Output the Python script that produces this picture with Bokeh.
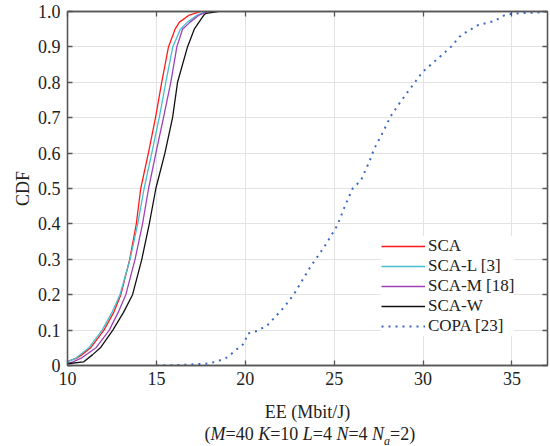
from bokeh.plotting import figure
from bokeh.layouts import column
from bokeh.models import (ColumnDataSource, Legend, LegendItem, LinearAxis, FixedTicker, Range1d)
from bokeh.core.properties import value
from bokeh.embed import file_html
from bokeh.resources import INLINE

# ---------------- data ----------------
sca_x = [10.0, 10.5, 10.8, 11.3, 12.05, 12.6, 13.0, 13.25, 13.5, 13.87, 14.12, 14.55, 14.95, 15.3, 15.68, 16.05, 16.3, 16.85, 17.5]
sca_y = [0.012, 0.02, 0.03, 0.05, 0.10, 0.15, 0.20, 0.25, 0.30, 0.40, 0.50, 0.60, 0.70, 0.80, 0.90, 0.95, 0.97, 0.99, 1.0]

scal_x = [10.0, 10.45, 11.2, 11.95, 12.5, 12.95, 13.52, 13.95, 14.31, 14.74, 15.16, 15.53, 15.92, 16.35, 16.75, 17.3, 17.8]
scal_y = [0.01, 0.02, 0.05, 0.10, 0.15, 0.20, 0.30, 0.40, 0.50, 0.60, 0.70, 0.80, 0.90, 0.95, 0.97, 0.99, 1.0]

scam_x = [10.0, 10.3, 10.75, 11.6, 12.35, 12.85, 13.28, 13.8, 14.22, 14.56, 14.97, 15.4, 15.81, 16.15, 16.47, 16.9, 17.4, 17.9]
scam_y = [0.005, 0.01, 0.02, 0.05, 0.10, 0.15, 0.20, 0.30, 0.40, 0.50, 0.60, 0.70, 0.80, 0.90, 0.95, 0.97, 0.99, 1.0]

scaw_x = [10.0, 10.9, 11.4, 11.85, 12.55, 13.15, 13.66, 14.18, 14.6, 14.97, 15.48, 15.91, 16.19, 16.75, 17.13, 17.67, 17.8, 18.44]
scaw_y = [0.005, 0.01, 0.03, 0.05, 0.10, 0.15, 0.20, 0.30, 0.40, 0.50, 0.60, 0.70, 0.80, 0.90, 0.95, 0.99, 0.995, 1.0]

copa_x = [15.0, 16.0, 17.0, 17.8, 18.4, 19.0, 19.5, 19.94, 20.13, 20.68, 21.25, 22.19, 22.75, 23.2, 23.69, 24.1, 24.53,
          25.19, 25.6, 26.04, 26.51, 26.97, 27.25, 27.73, 28.19, 28.76, 29.51, 29.98, 30.63, 31.57, 32.13, 33.07, 34.0,
          34.57, 35.04, 36.64, 37.0]
copa_y = [0.0, 0.001, 0.003, 0.005, 0.011, 0.023, 0.045, 0.062, 0.09, 0.098, 0.114, 0.165, 0.202, 0.24, 0.281, 0.31, 0.342,
          0.397, 0.45, 0.5, 0.523, 0.575, 0.612, 0.658, 0.705, 0.747, 0.798, 0.83, 0.858, 0.9, 0.933, 0.961, 0.973,
          0.989, 0.994, 0.998, 1.0]

series_names = ["SCA", "SCA-L [3]", "SCA-M [18]", "SCA-W", "COPA [23]"]

x_ticks = [10, 15, 20, 25, 30, 35]
y_ticks = [0, 0.1, 0.2, 0.3, 0.4, 0.5, 0.6, 0.7, 0.8, 0.9, 1.0]
y_tick_labels = ["0", "0.1", "0.2", "0.3", "0.4", "0.5", "0.6", "0.7", "0.8", "0.9", "1.0"]

x_label = "EE (Mbit/J)"
# subtitle pieces: (text, italic, subscript, trailing gap in em)
subtitle = [("(", False, False, 0), ("M", True, False, 0), ("=40", False, False, 0.25), ("K", True, False, 0),
            ("=10", False, False, 0.25), ("L", True, False, 0), ("=4", False, False, 0.25), ("N", True, False, 0),
            ("=4", False, False, 0.25), ("N", True, False, 0), ("a", True, True, 0), ("=2)", False, False, 0)]

# ---------------- styling ----------------
FONT = "Liberation Serif"
FS = 18
AX = "#555555"
TXT = "#222222"
W = 550
H_MAIN, H_SUB = 424, 22
BL, BR, BT, BB = 67, 3, 11, 55

p = figure(width=W, height=H_MAIN, output_backend="svg", toolbar_location=None,
           x_range=Range1d(10, 37), y_range=Range1d(0, 1),
           min_border_left=BL, min_border_right=BR, min_border_top=BT, min_border_bottom=BB)
p.background_fill_color = "white"
p.border_fill_color = "white"
p.outline_line_color = AX
p.outline_line_width = 1.3

p.grid.grid_line_color = "#e3e3e3"
p.grid.grid_line_width = 1
p.xgrid.ticker = FixedTicker(ticks=x_ticks)
p.ygrid.ticker = FixedTicker(ticks=y_ticks)

def style_axis(ax, show_labels):
    ax.axis_line_color = AX
    ax.axis_line_width = 1.3
    ax.major_tick_line_color = AX
    ax.major_tick_line_width = 1.3
    ax.major_tick_in = 5
    ax.major_tick_out = 0
    ax.minor_tick_line_color = None
    ax.major_label_text_font = FONT
    if show_labels:
        ax.major_label_text_font_size = f"{FS}px"
        ax.major_label_text_color = TXT
    else:
        ax.major_label_text_font_size = "1px"
        ax.major_label_text_color = None
        ax.major_label_standoff = 0

xa = p.xaxis[0]
ya = p.yaxis[0]
xa.ticker = FixedTicker(ticks=x_ticks)
ya.ticker = FixedTicker(ticks=y_ticks)
ya.major_label_overrides = {t: s for t, s in zip(y_ticks, y_tick_labels)}
style_axis(xa, True)
style_axis(ya, True)
xa.major_label_standoff = 6
ya.major_label_standoff = 7

xa.axis_label = x_label
xa.axis_label_text_font = FONT
xa.axis_label_text_font_size = f"{FS}px"
xa.axis_label_text_font_style = "normal"
xa.axis_label_text_color = TXT
xa.axis_label_standoff = 14

ya.axis_label = "CDF"
ya.axis_label_text_font = FONT
ya.axis_label_text_font_size = f"{FS}px"
ya.axis_label_text_font_style = "normal"
ya.axis_label_text_color = TXT
ya.axis_label_standoff = 2

ra = LinearAxis(ticker=FixedTicker(ticks=y_ticks))
ta = LinearAxis(ticker=FixedTicker(ticks=x_ticks))
style_axis(ra, False)
style_axis(ta, False)
p.add_layout(ra, "right")
p.add_layout(ta, "above")

colors = ["#ff1a1a", "#45bfd0", "#a040b8", "#111111", "#3a68c4"]
xs = [sca_x, scal_x, scam_x, scaw_x, copa_x]
ys = [sca_y, scal_y, scam_y, scaw_y, copa_y]
renderers = []
for i in range(5):
    src = ColumnDataSource(dict(x=xs[i], y=ys[i]))
    if i == 4:
        r = p.line("x", "y", source=src, line_color=colors[i], line_width=2, line_dash="2 5")
    else:
        r = p.line("x", "y", source=src, line_color=colors[i], line_width=1.3)
    renderers.append(r)

legend = Legend(items=[LegendItem(label=n, renderers=[r]) for n, r in zip(series_names, renderers)],
                location=(314, 29))
legend.label_text_font = FONT
legend.label_text_font_size = "17px"
legend.label_text_color = TXT
legend.label_height = 18
legend.glyph_height = 18
legend.glyph_width = 44
legend.label_standoff = 3
legend.spacing = 0
legend.padding = 2
legend.margin = 0
legend.border_line_color = None
legend.background_fill_color = "white"
legend.background_fill_alpha = 1.0
p.add_layout(legend, "center")

# ---------------- subtitle strip: (M=40 K=10 L=4 N=4 N_a=2) ----------------
# its frame is aligned with the main frame, so the x range spans the frame's pixel columns
p2 = figure(width=W, height=H_SUB, output_backend="svg", toolbar_location=None,
            x_range=Range1d(BL, W - BR), y_range=Range1d(0, H_SUB),
            x_axis_type=None, y_axis_type=None,
            min_border_left=BL, min_border_right=BR, min_border_top=0, min_border_bottom=0)
p2.outline_line_color = None
p2.background_fill_color = "white"
p2.border_fill_color = "white"
p2.grid.visible = False

widths = {"(": 0.333, ")": 0.333, "=": 0.564, " ": 0.25, "M": 0.833, "K": 0.667, "L": 0.556, "N": 0.667,
          "a": 0.5, "0": 0.5, "1": 0.5, "2": 0.5, "4": 0.5}
xpos = 204.0
for txt, ital, sub, gap in subtitle:
    fs = 12 if sub else FS
    ypos = 6 if sub else 13
    p2.text(x=[xpos], y=[ypos], text=[txt], text_font=value(FONT), text_font_size=value(f"{fs}px"),
            text_color=TXT, text_font_style="italic" if ital else "normal",
            text_align="left", text_baseline="middle")
    xpos += sum(widths.get(c, 0.5) for c in txt) * fs + gap * FS

layout = column(p, p2, spacing=0)
open("out.html", "w").write(file_html(layout, INLINE))
